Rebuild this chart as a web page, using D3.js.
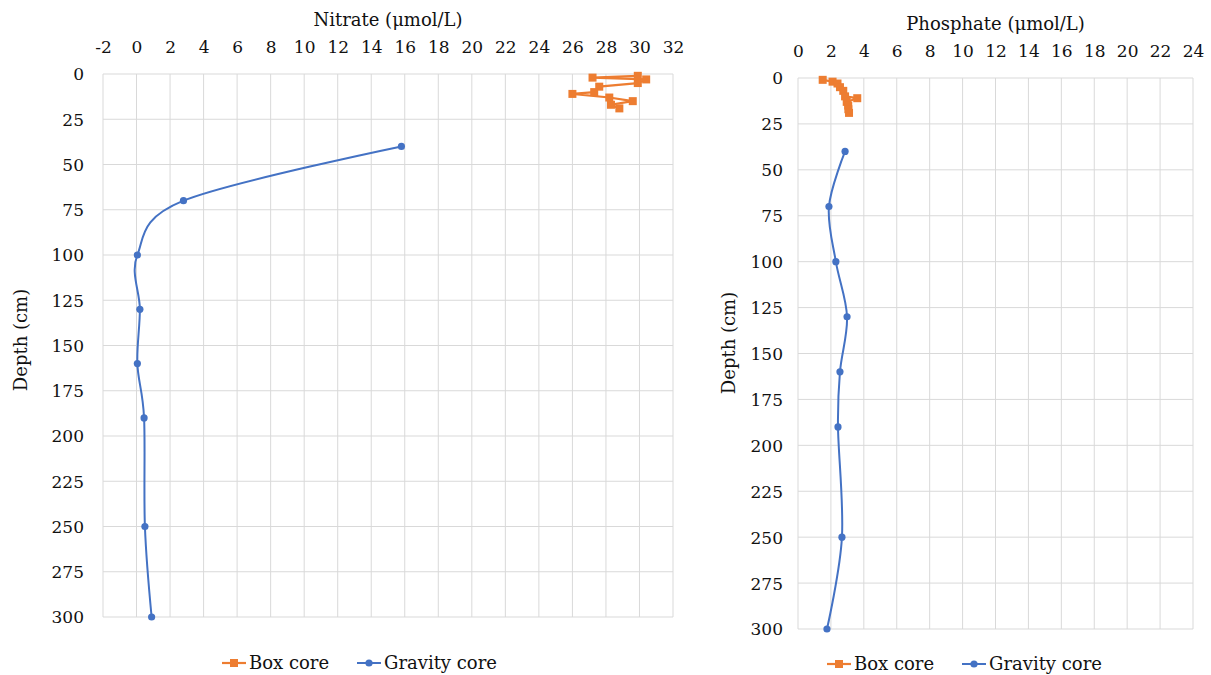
<!DOCTYPE html>
<html>
<head>
<meta charset="utf-8">
<script src="https://cdn.jsdelivr.net/npm/d3@7"></script>
<style>
  html, body { margin: 0; padding: 0; background: #fff; }
  svg, svg text { font-family: "DejaVu Serif", "Liberation Serif", serif !important; }
</style>
</head>
<body>
<svg id="chart" width="1211" height="675"></svg>
<script>
// Box core (0–20 cm) and gravity core (40–300 cm) porewater profiles
const boxDepth = [1, 2, 3, 5, 7, 10, 11, 13, 15, 17, 19];
const boxNitrate = [29.9, 27.2, 30.4, 29.9, 27.6, 27.3, 26.0, 28.2, 29.6, 28.3, 28.8];
const boxPhosphate = [1.5, 2.1, 2.4, 2.55, 2.75, 2.86, 3.6, 2.96, 3.05, 3.06, 3.1];

const gravityDepth = [40, 70, 100, 130, 160, 190, 250, 300];
const gravityNitrate = [15.8, 2.8, 0.05, 0.2, 0.05, 0.45, 0.5, 0.9];
const gravityPhosphate = [2.86, 1.88, 2.3, 2.98, 2.55, 2.43, 2.67, 1.76];

const depthTicks = [0, 25, 50, 75, 100, 125, 150, 175, 200, 225, 250, 275, 300];
const nitrateTicks = d3.range(-2, 33, 2);
const phosphateTicks = d3.range(0, 25, 2);

const ORANGE = "#ED7D31";
const BLUE = "#4472C4";
const GRID = "#d9d9d9";
const TEXT = "#111";
const FS = 17;
const TITLE_FS = 18;

const svg = d3.select("#chart");

function panel(opts) {
  const g = svg.append("g");
  const x = d3.scaleLinear().domain(opts.xDomain).range([opts.left, opts.right]);
  const y = d3.scaleLinear().domain([0, 300]).range([opts.top, opts.bottom]);

  // grid
  g.append("g").selectAll("line").data(opts.xTicks).join("line")
    .attr("x1", d => x(d)).attr("x2", d => x(d))
    .attr("y1", opts.top).attr("y2", opts.bottom)
    .attr("stroke", GRID).attr("stroke-width", 1);
  g.append("g").selectAll("line").data(depthTicks).join("line")
    .attr("x1", opts.left).attr("x2", opts.right)
    .attr("y1", d => y(d)).attr("y2", d => y(d))
    .attr("stroke", GRID).attr("stroke-width", 1);

  // top axis labels (plain hyphen for negatives)
  const xAxis = d3.axisTop(x).tickValues(opts.xTicks).tickSize(0).tickPadding(0)
    .tickFormat(d => String(d));
  const xa = g.append("g").attr("transform", `translate(0,${opts.xLabelY})`).call(xAxis);
  xa.select(".domain").remove();
  xa.selectAll("text").attr("font-size", FS).attr("fill", TEXT).attr("dy", 0);

  // left axis labels
  const yAxis = d3.axisLeft(y).tickValues(depthTicks).tickSize(0).tickPadding(0)
    .tickFormat(d => String(d));
  const ya = g.append("g").attr("transform", `translate(${opts.yLabelX},0)`).call(yAxis);
  ya.select(".domain").remove();
  ya.selectAll("text").attr("font-size", FS).attr("fill", TEXT).attr("dy", "0.35em");

  // titles
  g.append("text").attr("x", (opts.left + opts.right) / 2).attr("y", opts.titleY)
    .attr("text-anchor", "middle").attr("font-size", TITLE_FS).attr("fill", TEXT)
    .text(opts.title);
  g.append("text")
    .attr("transform", `translate(${opts.depthTitleX},${opts.depthTitleY}) rotate(-90)`)
    .attr("text-anchor", "middle").attr("font-size", TITLE_FS).attr("fill", TEXT)
    .text("Depth (cm)");

  // gravity core: smoothed line with circle markers
  const gData = gravityDepth.map((d, i) => ({ d, v: opts.gravity[i] }));
  g.append("path").datum(gData)
    .attr("d", d3.line().x(p => x(p.v)).y(p => y(p.d)).curve(d3.curveCatmullRom.alpha(0)))
    .attr("fill", "none").attr("stroke", BLUE).attr("stroke-width", 2);
  g.append("g").selectAll("circle").data(gData).join("circle")
    .attr("cx", p => x(p.v)).attr("cy", p => y(p.d)).attr("r", 3.6)
    .attr("fill", BLUE);

  // box core: straight line with square markers
  const bData = boxDepth.map((d, i) => ({ d, v: opts.box[i] }));
  g.append("path").datum(bData)
    .attr("d", d3.line().x(p => x(p.v)).y(p => y(p.d)))
    .attr("fill", "none").attr("stroke", ORANGE).attr("stroke-width", 2.2);
  g.append("g").selectAll("rect").data(bData).join("rect")
    .attr("x", p => x(p.v) - 4).attr("y", p => y(p.d) - 4)
    .attr("width", 8).attr("height", 8).attr("fill", ORANGE);

  // legend
  const lg = g.append("g").attr("transform", `translate(${opts.legendX},${opts.legendY})`);
  lg.append("line").attr("x1", 0).attr("x2", 24).attr("y1", 0).attr("y2", 0)
    .attr("stroke", ORANGE).attr("stroke-width", 2.2);
  lg.append("rect").attr("x", 8).attr("y", -4).attr("width", 8).attr("height", 8).attr("fill", ORANGE);
  lg.append("text").attr("x", 27).attr("y", 6).attr("font-size", 18).attr("fill", TEXT).text("Box core");
  lg.append("line").attr("x1", 135).attr("x2", 159).attr("y1", 0).attr("y2", 0)
    .attr("stroke", BLUE).attr("stroke-width", 2);
  lg.append("circle").attr("cx", 147).attr("cy", 0).attr("r", 3.6).attr("fill", BLUE);
  lg.append("text").attr("x", 162).attr("y", 6).attr("font-size", 18).attr("fill", TEXT).text("Gravity core");
}

panel({
  xDomain: [-2, 32], xTicks: nitrateTicks,
  left: 103, right: 673, top: 74, bottom: 617,
  xLabelY: 53, yLabelX: 84, titleY: 26,
  depthTitleX: 27, depthTitleY: 340,
  title: "Nitrate (μmol/L)",
  box: boxNitrate, gravity: gravityNitrate,
  legendX: 222, legendY: 663
});

panel({
  xDomain: [0, 24], xTicks: phosphateTicks,
  left: 798, right: 1193, top: 78, bottom: 629,
  xLabelY: 57, yLabelX: 783, titleY: 30,
  depthTitleX: 735, depthTitleY: 343,
  title: "Phosphate (μmol/L)",
  box: boxPhosphate, gravity: gravityPhosphate,
  legendX: 827, legendY: 664
});
</script>
</body>
</html>
